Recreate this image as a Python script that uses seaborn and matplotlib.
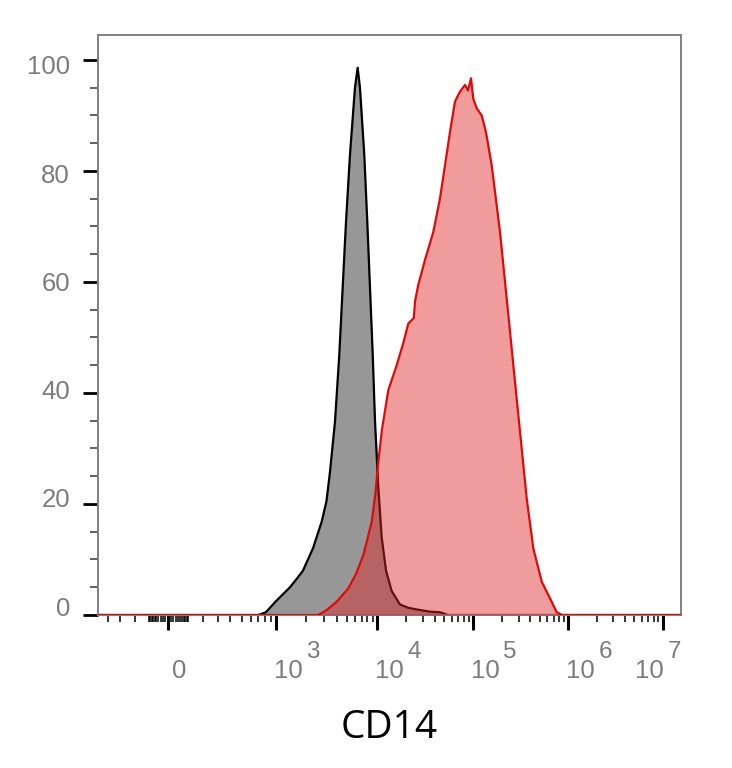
import numpy as np
import pandas as pd
import matplotlib
matplotlib.use("Agg")
import matplotlib.pyplot as plt
from matplotlib.transforms import ScaledTranslation
import seaborn as sns

# CD14 intensity and % of max, isotype control (grey) histogram
iso_cd14 = [-500, 700, 814, 1000, 1180, 1374, 1600, 1847, 2317, 2825, 3150, 3413,
            3822, 4213, 4550, 4910, 5373, 6020, 6400, 6745, 7435, 7960, 8468, 9010,
            9490, 10240, 11110, 12330, 14130, 17220, 21000, 25700, 35380, 44950,
            54450, 1.6e7]
iso_pct = [0, 0, 0.5, 2.5, 3.8, 5, 6.5, 8, 12, 16.8, 20.5, 25.8,
           34.8, 46.8, 58.9, 70.8, 82.9, 95, 98.6, 95, 83, 71, 59, 47,
           35, 23, 14, 8, 4.3, 1.9, 1.3, 1.0, 0.6, 0.5,
           0, 0]

# CD14 stained sample (red) histogram
cd14_cd14 = [-500, 2600, 3119, 3980, 5180, 6200, 7280, 8810, 9600, 10300, 11200,
             13020, 15920, 18650, 21020, 24000, 24700, 26740, 31400, 38300, 44950,
             50700, 57150, 64430, 72660, 81960, 88070, 94620, 100000, 108600,
             122600, 136000, 156300, 191000, 224700, 263800, 310200, 364800,
             428400, 525200, 641800, 755000, 859000, 1.6e7]
cd14_pct = [0, 0, 0.8, 2.4, 4.8, 7.5, 10.8, 16.8, 22, 28, 33.5,
            40.5, 45, 49, 52.5, 53.5, 56.5, 59.5, 64, 69, 75,
            81, 87, 92.5, 94.3, 95.5, 94.5, 96.7, 93, 91.3,
            90, 87, 81, 69, 57, 45, 33, 21,
            12, 6, 3, 0.5, 0, 0]

major_ticks = [0, 1e3, 1e4, 1e5, 1e6, 1e7]
major_labels = ["0", "10", "10", "10", "10", "10"]
exponents = ["", "3", "4", "5", "6", "7"]
y_ticks = [0, 20, 40, 60, 80, 100]

# biexponential-like axis: calibration of value -> pixel column in the reference
CAL_V = np.array([-1e6, -2000, -400, -300, -200, -100, 0, 100, 200, 300, 400, 500,
                  1000, 1e4, 1e5, 1e6, 1e7, 1e8, 1e9, 1e10])
CAL_P = np.array([-220.4, 40.6, 108, 120, 135, 149, 168, 188, 203, 218, 230, 242,
                  276, 377.3, 473.3, 568.3, 662.7, 757, 851.3, 945.6])
W = 50.0
CAL_A = np.arcsinh(CAL_V / W)


def fwd(v):
    return np.interp(np.arcsinh(np.asarray(v, dtype=float) / W), CAL_A, CAL_P)


def inv(p):
    return W * np.sinh(np.interp(np.asarray(p, dtype=float), CAL_P, CAL_A))


minor_ticks = []
for d in range(10, 100, 10):
    minor_ticks += [d, -d]
minor_ticks += [100, -100, -200, -300, -400]
minor_ticks += [m * 100 for m in range(2, 10)]
for e in range(3, 7):
    minor_ticks += [m * 10 ** e for m in range(2, 10)]

sns.set_style("ticks")
plt.rcParams['font.family'] = ['Liberation Sans', 'DejaVu Sans']

fig = plt.figure(figsize=(7.32, 7.68), dpi=100)
ax = fig.add_axes([98 / 732, 1 - 615 / 768, (681 - 98) / 732, (615 - 35) / 768])

iso = pd.DataFrame({"CD14": iso_cd14, "pct": iso_pct})
pos = pd.DataFrame({"CD14": cd14_cd14, "pct": cd14_pct})

ax.fill_between(iso["CD14"], iso["pct"], color="#979797", lw=0, zorder=1)
sns.lineplot(data=iso, x="CD14", y="pct", ax=ax, color="black", lw=1.6,
             estimator=None, sort=False, zorder=2)
ax.fill_between(pos["CD14"], pos["pct"], color="#e02424", alpha=0.45, lw=0, zorder=3)
sns.lineplot(data=pos, x="CD14", y="pct", ax=ax, color="#dd0a0a", lw=1.6,
             estimator=None, sort=False, zorder=4)

ax.set_xscale("function", functions=(fwd, inv))
ax.set_xlim(inv(98), inv(681))
ax.set_ylim(0, 104.5)

ax.set_xticks(major_ticks, labels=major_labels)
ax.set_xticks(minor_ticks, minor=True)
ax.set_yticks(y_ticks)
ax.set_yticks(range(0, 101, 5), minor=True)

tick_grey = "#7c7c7c"
ax.tick_params(axis="x", which="major", length=10.8, width=2.2, color="black",
               labelsize=18.5, labelcolor=tick_grey, pad=34.6)
ax.tick_params(axis="x", which="minor", length=5, width=1.1, color="black")
ax.tick_params(axis="y", which="major", length=10.8, width=2.0, color="black",
               labelsize=18.5, labelcolor=tick_grey, pad=9.4)
ax.tick_params(axis="y", which="minor", length=5.8, width=1.1, color="#333333")


def px_shift(dx, dy):
    return ScaledTranslation(dx / 100, dy / 100, fig.dpi_scale_trans)


# shift the x tick labels like the cytometry software does
for lab, val, ex in zip(ax.get_xticklabels(), major_ticks, exponents):
    lab.set_va("baseline")
    if val == 0:
        lab.set_ha("center")
        lab.set_transform(lab.get_transform() + px_shift(11, 0))
        continue
    if val == 1e7:
        lab.set_ha("right")
        lab.set_transform(lab.get_transform() + px_shift(1, 0))
        ex_dx = 5
    else:
        lab.set_ha("left")
        lab.set_transform(lab.get_transform() + px_shift(-2, 0))
        ex_dx = 30
    ax.text(val, 0, ex, transform=ax.get_xaxis_transform() + px_shift(ex_dx, -43),
            ha="left", va="baseline", fontsize=17.5, color=tick_grey, clip_on=False)

# y labels sit on a slightly tighter spacing than their ticks
for lab, val in zip(ax.get_yticklabels(), y_ticks):
    dy = 9 - val * 0.14
    lab.set_transform(lab.get_transform() + px_shift(0, dy))

for sp in ax.spines.values():
    sp.set_color("#808080")
    sp.set_linewidth(1.4)

ax.set_ylabel("")
ax.set_xlabel("CD14", fontsize=28, family=["Open Sans", "DejaVu Sans"], color="black")
ax.xaxis.label.set_va("baseline")
ax.xaxis.set_label_coords(0.5, -(738 - 615) / 580)

fig.savefig("out.png", dpi=100)
